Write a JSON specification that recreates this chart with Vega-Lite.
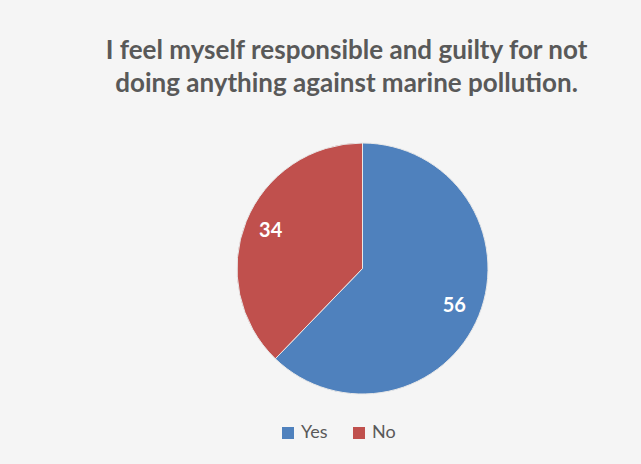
{
  "$schema": "https://vega.github.io/schema/vega-lite/v6.json",
  "autosize": "none",
  "width": 251,
  "height": 251,
  "padding": {"left": 237, "top": 143, "right": 153, "bottom": 70},
  "background": "#f5f5f5",
  "title": {
    "text": ["I feel myself responsible and guilty for not", "doing anything against marine pollution."],
    "font": "Lato",
    "fontSize": 26,
    "fontWeight": "bold",
    "color": "#595959",
    "lineHeight": 33,
    "anchor": "middle",
    "dx": -16,
    "offset": 44
  },
  "data": {"values": [
    {"answer": "Yes", "count": 56},
    {"answer": "No", "count": 34}
  ]},
  "config": {"view": {"stroke": null}},
  "layer": [
    {
      "mark": {"type": "arc", "stroke": "#e8e8e8", "strokeWidth": 1},
      "encoding": {
        "theta": {"field": "count", "type": "quantitative", "stack": true},
        "order": {"field": "count", "type": "quantitative", "sort": "descending"},
        "color": {
          "field": "answer", "type": "nominal",
          "scale": {"domain": ["Yes", "No"], "range": ["#4f81bd", "#c0504d"]},
          "legend": {
            "title": null,
            "orient": "none",
            "direction": "horizontal",
            "legendX": 42,
            "legendY": 281,
            "symbolType": "square",
            "symbolSize": 144,
            "symbolStrokeWidth": 0,
            "symbolOpacity": 1,
            "labelFont": "Lato",
            "labelFontSize": 18,
            "labelColor": "#595959",
            "labelOffset": 4,
            "columnPadding": 22
          }
        }
      }
    },
    {
      "mark": {"type": "text", "radius": 99, "font": "Lato", "fontSize": 20, "fontWeight": "bold", "color": "white"},
      "encoding": {
        "theta": {"field": "count", "type": "quantitative", "stack": true},
        "order": {"field": "count", "type": "quantitative", "sort": "descending"},
        "text": {"field": "count", "type": "quantitative"}
      }
    }
  ]
}
